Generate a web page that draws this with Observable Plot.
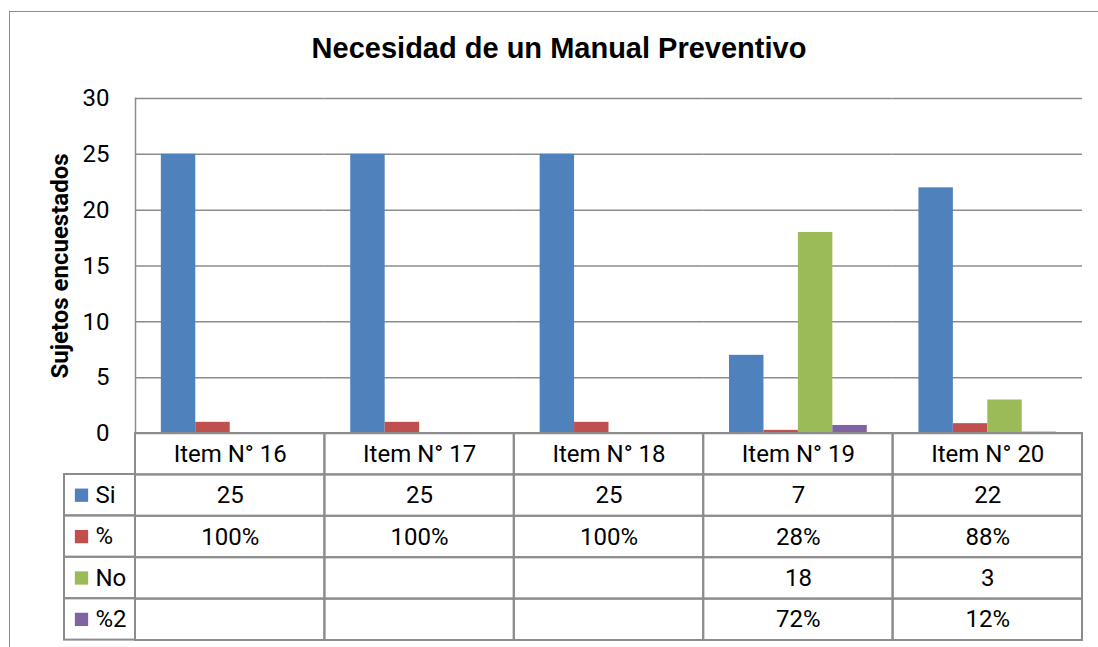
<!DOCTYPE html>
<html>
<head>
<meta charset="utf-8">
<script src="https://cdn.jsdelivr.net/npm/d3@7"></script>
<script src="https://cdn.jsdelivr.net/npm/@observablehq/plot@0.6"></script>
<style>
  html, body { margin: 0; padding: 0; background: #fff; overflow: hidden; }
  #root { position: relative; width: 1098px; height: 647px; overflow: hidden; }
  #box { position: absolute; left: 9px; top: 11px; width: 1120px; height: 700px; border: 1.5px solid #8c8c8c; box-sizing: border-box; }
  #title { position: absolute; left: 559px; top: 34px; transform: translateX(-50%); white-space: nowrap;
           font: bold 29px "Liberation Sans", Arial, sans-serif; line-height: 1; color: #000; }
  #ylabel { position: absolute; left: 60px; top: 265.5px; transform: translate(-50%, -50%) rotate(-90deg); white-space: nowrap;
            font: bold 24px Roboto, sans-serif; color: #000; }
  .plot { position: absolute; }
</style>
</head>
<body>
<div id="root">
  <div id="box"></div>
  <div id="title">Necesidad de un Manual Preventivo</div>
  <div id="ylabel">Sujetos encuestados</div>
</div>
<script>
// ---- data ----
const categories = ["Item N° 16", "Item N° 17", "Item N° 18", "Item N° 19", "Item N° 20"];
const series = ["Si", "%", "No", "%2"];
const si = [25, 25, 25, 7, 22];
const pct = [1, 1, 1, 0.28, 0.88];
const no = [null, null, null, 18, 3];
const pct2 = [null, null, null, 0.72, 0.12];
const yTicks = [0, 5, 10, 15, 20, 25, 30];
const colors = ["#4F81BD", "#C0504D", "#9BBB59", "#8064A2"];

const seriesValues = [si, pct, no, pct2];
const isPercent = [false, true, false, true];
const fmtPct = d3.format(".0%");

const barData = categories.flatMap((cat, i) =>
  series.map((s, j) => ({cat, series: s, value: seriesValues[j][i]}))
).filter(d => d.value != null);

const gridColor = "#8c8c8c";
const root = document.getElementById("root");

// ---- chart ----
const chart = Plot.plot({
  width: 1098,
  height: 436,
  marginTop: 98,
  marginBottom: 3,
  marginLeft: 135,
  marginRight: 16,
  style: {fontFamily: "Roboto, sans-serif", fontSize: "24px", color: "#000", background: "transparent", overflow: "visible"},
  fx: {domain: categories, padding: 0, axis: null, round: false},
  x: {domain: series, paddingInner: 0, paddingOuter: 0.75, axis: null, round: false},
  y: {domain: [0, 30]},
  color: {domain: series, range: colors},
  marks: [
    Plot.ruleY(yTicks, {stroke: gridColor, strokeWidth: 1.5}),
    Plot.frame({anchor: "left", stroke: gridColor, strokeWidth: 1.5, facet: "super"}),
    Plot.barY(barData, {fx: "cat", x: "series", y: "value", fill: "series"}),
    Plot.axisY({ticks: yTicks, tickSize: 0, tickPadding: 26, fontSize: 24, label: null, fill: "#000"})
  ]
});
chart.classList.add("plot");
chart.style.left = "0px";
chart.style.top = "0px";
root.appendChild(chart);

// ---- data table ----
const rows = ["hdr", ...series];
const cellData = [];
categories.forEach((cat, i) => {
  cellData.push({cat, row: "hdr", label: cat});
  series.forEach((s, j) => {
    const v = seriesValues[j][i];
    cellData.push({cat, row: s, label: v == null ? "" : (isPercent[j] ? fmtPct(v) : String(v))});
  });
});

const tableTop = 433, tableBottom = 640;
const table = Plot.plot({
  width: 1098,
  height: (tableBottom - tableTop) + 3,
  marginTop: 1,
  marginBottom: 2,
  marginLeft: 135,
  marginRight: 16,
  style: {fontFamily: "Roboto, sans-serif", fontSize: "24px", color: "#000", background: "transparent", overflow: "visible"},
  x: {domain: categories, padding: 0, axis: null, round: false},
  y: {domain: rows, padding: 0, axis: null, round: false},
  marks: [
    Plot.cell(cellData, {x: "cat", y: "row", stroke: gridColor, strokeWidth: 2, fill: "none"}),
    Plot.text(cellData, {x: "cat", y: "row", text: "label", fontSize: 24, fill: "#000"})
  ]
});
table.classList.add("plot");
table.style.left = "0px";
table.style.top = (tableTop - 1) + "px";
root.appendChild(table);

// ---- row headers (legend column) ----
const rowH = (tableBottom - tableTop) / rows.length;
const headTop = tableTop + rowH;
const legendCol = Plot.plot({
  width: 73,
  height: (tableBottom - headTop) + 3,
  marginTop: 1,
  marginBottom: 2,
  marginLeft: 1,
  marginRight: 1,
  style: {fontFamily: "Roboto, sans-serif", fontSize: "24px", color: "#000", background: "transparent", overflow: "visible"},
  x: {axis: null},
  y: {domain: series, padding: 0, axis: null, round: false},
  color: {domain: series, range: colors},
  marks: [
    Plot.cell(series, {y: d => d, stroke: gridColor, strokeWidth: 2, fill: "none"}),
    Plot.dot(series, {y: d => d, frameAnchor: "left", dx: 17, symbol: "square", r: 7.5, fill: d => d}),
    Plot.text(series, {y: d => d, text: d => d, frameAnchor: "left", dx: 31, textAnchor: "start", fontSize: 24, fill: "#000"})
  ]
});
legendCol.classList.add("plot");
legendCol.style.left = "63px";
legendCol.style.top = (headTop - 1) + "px";
root.appendChild(legendCol);
</script>
</body>
</html>
